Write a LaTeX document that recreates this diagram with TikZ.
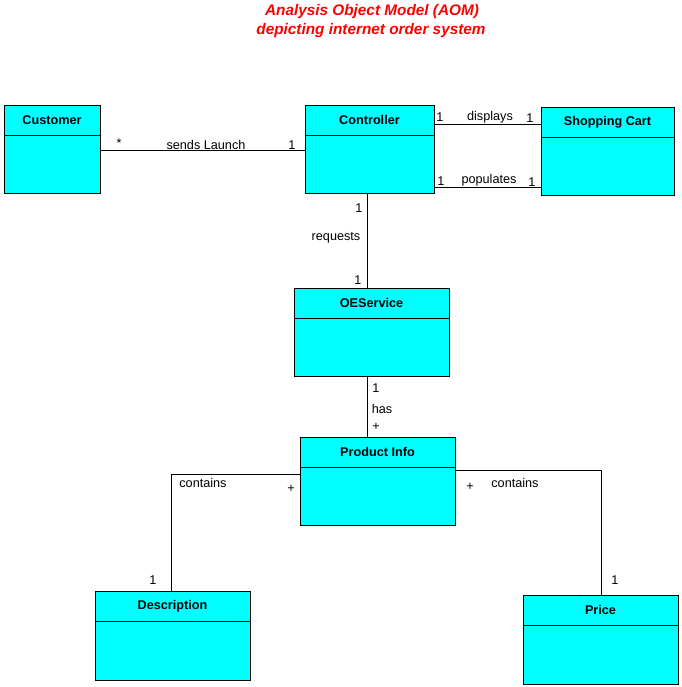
\documentclass[tikz,border=0pt]{standalone}
\usepackage{fontspec}
\setmainfont{Liberation Sans}
\usetikzlibrary{positioning}

\definecolor{aomcyan}{RGB}{0,255,255}
\definecolor{aomred}{RGB}{255,0,0}
\newcommand{\classfont}{\fontsize{9.5}{11}\selectfont\bfseries}
\newcommand{\assocfont}{\fontsize{9.5}{11}\selectfont}

\tikzstyle{classbox} = [draw, fill=aomcyan, line width=0.75pt, inner sep=0pt, minimum width=116.25pt, minimum height=66pt]
\tikzstyle{classname} = [anchor=north, inner sep=0pt, minimum height=22.5pt, font=\classfont]
\tikzstyle{assoc} = [inner sep=0pt, font=\assocfont]
\tikzstyle{aomtitle} = [inner sep=0pt, text=aomred, font=\fontsize{11.5}{13}\selectfont\bfseries\itshape]

\begin{document}
\begin{tikzpicture}[x=0.75pt, y=-0.75pt, line width=0.75pt]
      \useasboundingbox (0,0) rectangle (682,687);
      % title
      \node[aomtitle] (title1) at (372,12) {Analysis Object Model (AOM)};
      \node[aomtitle] (title2) at (371,31) {depicting internet order system};
      % classes
      \node[classbox, minimum width=72pt] (customer) at (52,149) {};
      \node[classname] (customer-t) at (customer.north) {Customer};
      \draw (customer-t.south -| customer.west) -- (customer-t.south -| customer.east);
      \node[classbox, minimum width=96.75pt] (controller) at (369.5,149) {};
      \node[classname] (controller-t) at (controller.north) {Controller};
      \draw (controller-t.south -| controller.west) -- (controller-t.south -| controller.east);
      \node[classbox, minimum width=99.75pt] (cart) at (607.5,151) {};
      \node[classname] (cart-t) at (cart.north) {Shopping Cart};
      \draw (cart-t.south -| cart.west) -- (cart-t.south -| cart.east);
      \node[classbox] (oeservice) at (371.5,332) {};
      \node[classname] (oeservice-t) at (oeservice.north) {OEService};
      \draw (oeservice-t.south -| oeservice.west) -- (oeservice-t.south -| oeservice.east);
      \node[classbox] (productinfo) at (377.5,481) {};
      \node[classname] (productinfo-t) at (productinfo.north) {Product Info};
      \draw (productinfo-t.south -| productinfo.west) -- (productinfo-t.south -| productinfo.east);
      \node[classbox, minimum height=66.75pt] (description) at (172.5,635.5) {};
      \node[classname] (description-t) at (description.north) {Description};
      \draw (description-t.south -| description.west) -- (description-t.south -| description.east);
      \node[classbox, minimum height=66.75pt] (price) at (600.5,639.5) {};
      \node[classname] (price-t) at (price.north) {Price};
      \draw (price-t.south -| price.west) -- (price-t.south -| price.east);
      % associations
      \coordinate (sends) at (0,150);
      \coordinate (displays) at (0,124);
      \coordinate (populates) at (0,187);
      \coordinate (requests) at (367,0);
      \coordinate (leftbend) at (171,474);
      \coordinate (rightbend) at (601,470);
      \draw (customer.east |- sends) -- (controller.west |- sends);
      \draw (controller.east |- displays) -- (cart.west |- displays);
      \draw (controller.east |- populates) -- (cart.west |- populates);
      \draw (controller.south -| requests) -- (oeservice.north -| requests);
      \draw (oeservice.south -| requests) -- (productinfo.north -| requests);
      \draw (productinfo.west |- leftbend) -- (leftbend) -- (description.north -| leftbend);
      \draw (productinfo.east |- rightbend) -- (rightbend) -- (price.north -| rightbend);
      % association labels
      \node[assoc] (l-star) at (119,143) {*};
      \node[assoc] (l-sends) at (206,145) {sends Launch};
      \node[assoc] (l-sends1) at (292,145) {1};
      \node[assoc] (l-disp1) at (440,117) {1};
      \node[assoc] (l-disp) at (490,117) {displays};
      \node[assoc] (l-disp2) at (530,118) {1};
      \node[assoc] (l-pop1) at (441,181) {1};
      \node[assoc] (l-pop) at (489,180) {populates};
      \node[assoc] (l-pop2) at (532,182) {1};
      \node[assoc] (l-req1) at (359,208) {1};
      \node[assoc] (l-req) at (336,238) {requests};
      \node[assoc] (l-req2) at (358,280) {1};
      \node[assoc] (l-has1) at (376,388) {1};
      \node[assoc] (l-has) at (382,409) {has};
      \node[assoc] (l-has2) at (376,427) {+};
      \node[assoc] (l-cont1) at (203,483) {contains};
      \node[assoc] (l-cont1p) at (291,489) {+};
      \node[assoc] (l-cont1n) at (153,580) {1};
      \node[assoc] (l-cont2p) at (470,487) {+};
      \node[assoc] (l-cont2) at (515,483) {contains};
      \node[assoc] (l-cont2n) at (615,580) {1};
    \end{tikzpicture}
\end{document}
